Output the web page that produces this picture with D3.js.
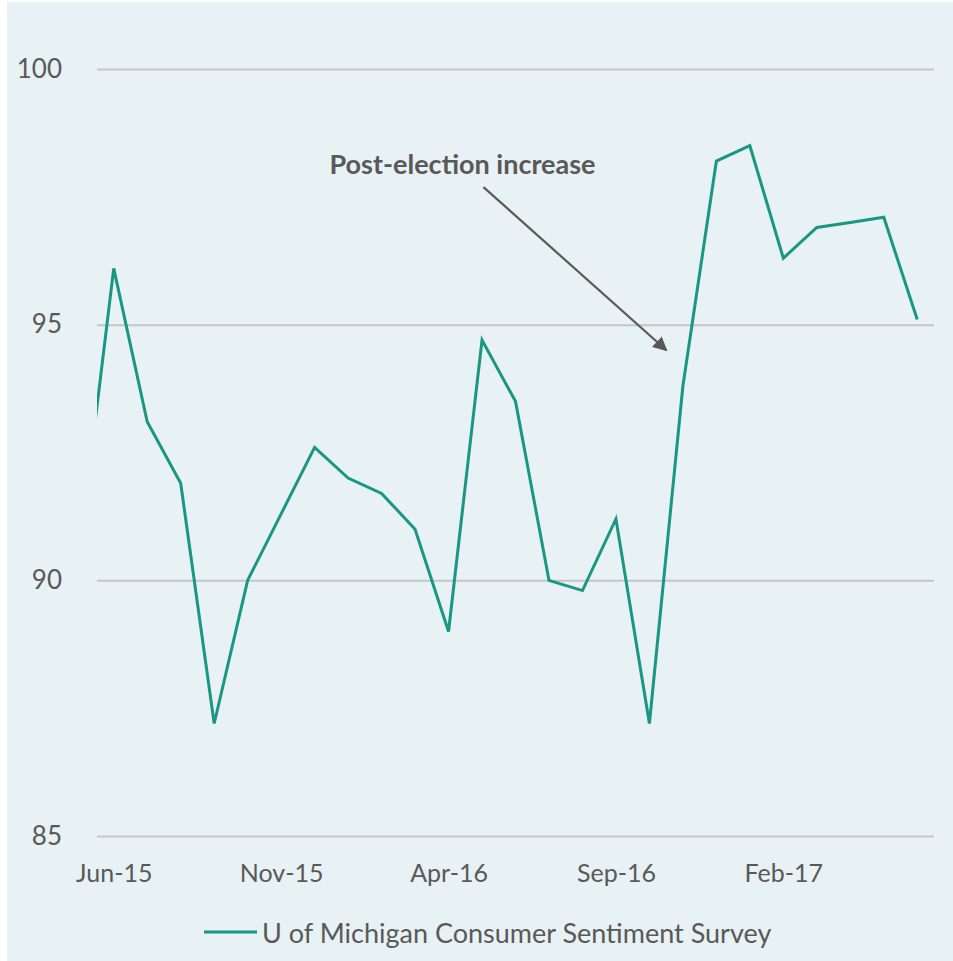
<!DOCTYPE html>
<html>
<head>
<meta charset="utf-8">
<script src="https://cdn.jsdelivr.net/npm/d3@7"></script>
<style>
  html, body { margin: 0; padding: 0; background: #ffffff; }
  svg { display: block; }
  text { font-family: Lato, "Open Sans", sans-serif; fill: #595959; }
</style>
</head>
<body>
<svg id="chart" width="953" height="961"></svg>
<script>
// Monthly index values, May 2015 – June 2017
const months = [
  "May-15","Jun-15","Jul-15","Aug-15","Sep-15","Oct-15","Nov-15","Dec-15",
  "Jan-16","Feb-16","Mar-16","Apr-16","May-16","Jun-16","Jul-16","Aug-16",
  "Sep-16","Oct-16","Nov-16","Dec-16","Jan-17","Feb-17","Mar-17","Apr-17",
  "May-17","Jun-17"
];
const sentiment = [
  90.7, 96.1, 93.1, 91.9, 87.2, 90.0, 91.3, 92.6,
  92.0, 91.7, 91.0, 89.0, 94.7, 93.5, 90.0, 89.8,
  91.2, 87.2, 93.8, 98.2, 98.5, 96.3, 96.9, 97.0,
  97.1, 95.1
];
const xTickLabels = ["Jun-15", "Nov-15", "Apr-16", "Sep-16", "Feb-17"];
const yTicks = [85, 90, 95, 100];
const seriesName = "U of Michigan Consumer Sentiment Survey";
const annotationText = "Post-election increase";
const annotationFrom = "Jun-16";   // month the callout text sits above
const annotationTo = "Oct-16";     // month the arrow points at

const W = 953, H = 961;
const plot = { left: 97, right: 934, top: 69, bottom: 836 };
const lineColor = "#1a9782";
const gridColor = "#c3c6c8";

const svg = d3.select("#chart");

// panel background
svg.append("rect")
  .attr("x", 7).attr("y", 2)
  .attr("width", W - 7).attr("height", H - 2)
  .attr("fill", "#e8f1f4");

// The first visible category is Jun-15; the axis spans half a month either side
const firstIdx = months.indexOf("Jun-15");
const lastIdx = months.length - 1;
const x = d3.scaleLinear()
  .domain([firstIdx - 0.5, lastIdx + 0.5])
  .range([plot.left, plot.right]);
const y = d3.scaleLinear()
  .domain([85, 100])
  .range([plot.bottom, plot.top]);

// horizontal gridlines + y labels
const yAxis = d3.axisLeft(y)
  .tickValues(yTicks)
  .tickSize(-(plot.right - plot.left))
  .tickPadding(35)
  .tickFormat(d3.format("d"));
const gy = svg.append("g")
  .attr("transform", `translate(${plot.left},0)`)
  .call(yAxis);
gy.select(".domain").remove();
gy.selectAll(".tick line").attr("stroke", gridColor).attr("stroke-width", 2);
gy.selectAll(".tick text")
  .style("font-size", "26px")
  .attr("fill", "#595959");

// x labels every five months
const xAxis = d3.axisBottom(x)
  .tickValues(xTickLabels.map(m => months.indexOf(m)))
  .tickSize(0)
  .tickPadding(28)
  .tickFormat(i => months[i]);
const gx = svg.append("g")
  .attr("transform", `translate(0,${plot.bottom})`)
  .call(xAxis);
gx.select(".domain").remove();
gx.selectAll(".tick text")
  .style("font-size", "25px")
  .attr("fill", "#595959");

// clip the series to the plot area
svg.append("clipPath").attr("id", "plotClip")
  .append("rect")
  .attr("x", plot.left).attr("y", 0)
  .attr("width", plot.right - plot.left).attr("height", H);

const line = d3.line()
  .x((d, i) => x(i))
  .y(d => y(d));

svg.append("path")
  .datum(sentiment)
  .attr("clip-path", "url(#plotClip)")
  .attr("fill", "none")
  .attr("stroke", lineColor)
  .attr("stroke-width", 3)
  .attr("stroke-linejoin", "miter")
  .attr("d", line);

// callout with arrow
const defs = svg.append("defs");
defs.append("marker")
  .attr("id", "arrowHead")
  .attr("viewBox", "0 0 10 10")
  .attr("refX", 9).attr("refY", 5)
  .attr("markerWidth", 6.5).attr("markerHeight", 6.5)
  .attr("markerUnits", "strokeWidth")
  .attr("orient", "auto")
  .append("path")
  .attr("d", "M0,0 L10,5 L0,10 Z")
  .attr("fill", "#595959");

const aFrom = months.indexOf(annotationFrom);
const aTo = months.indexOf(annotationTo);
svg.append("text")
  .attr("x", x(aFrom) - 53)
  .attr("y", y(98.16))
  .attr("text-anchor", "middle")
  .attr("dominant-baseline", "central")
  .style("font-size", "27px")
  .style("font-weight", "bold")
  .text(annotationText);

svg.append("line")
  .attr("x1", x(aFrom) - 32).attr("y1", y(97.69))
  .attr("x2", x(aTo) + 17).attr("y2", y(94.5))
  .attr("stroke", "#595959")
  .attr("stroke-width", 2.2)
  .attr("marker-end", "url(#arrowHead)");

// legend
const legend = svg.append("g").attr("transform", "translate(204,932)");
legend.append("line")
  .attr("x1", 0).attr("x2", 53)
  .attr("y1", 0).attr("y2", 0)
  .attr("stroke", lineColor).attr("stroke-width", 3);
legend.append("text")
  .attr("x", 58).attr("y", 0)
  .attr("dominant-baseline", "central")
  .style("font-size", "27px")
  .text(seriesName);
</script>
</body>
</html>
